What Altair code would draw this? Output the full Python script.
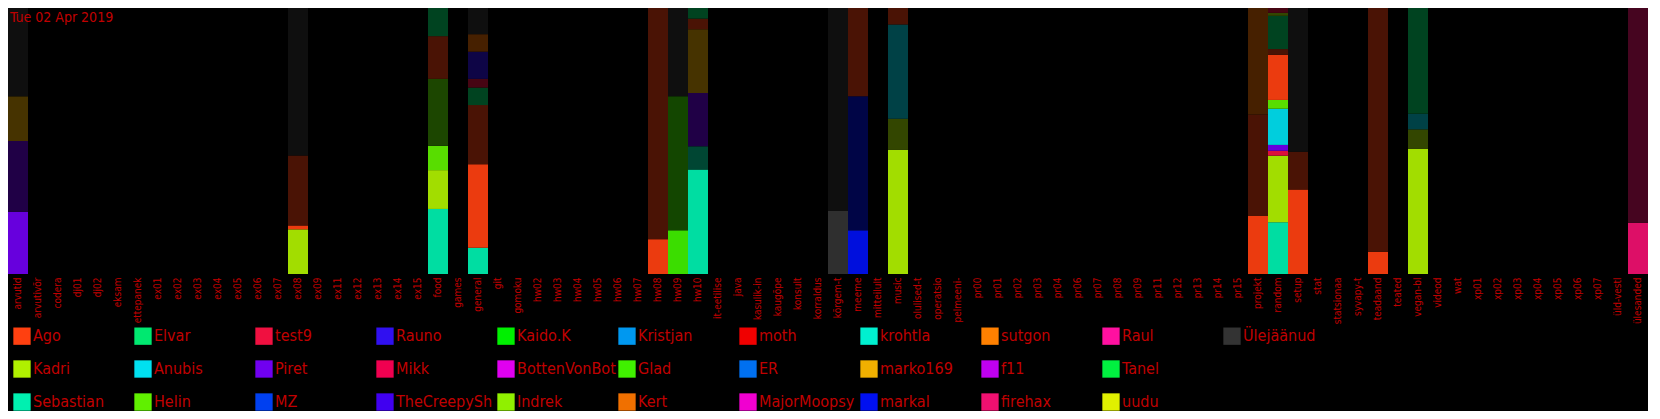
import altair as alt
import pandas as pd

FONT = "DejaVu Sans Condensed, Liberation Sans Narrow, sans-serif"
RED = "#c00000"

title_text = "Tue 02 Apr 2019"

channels = [
    "arvutid", "arvutivõr", "codera", "dj01", "dj02", "eksam", "ettepanek",
    "ex01", "ex02", "ex03", "ex04", "ex05", "ex06", "ex07", "ex08", "ex09",
    "ex11", "ex12", "ex13", "ex14", "ex15", "food", "games", "general", "git",
    "gomoku", "hw02", "hw03", "hw04", "hw05", "hw06", "hw07", "hw08", "hw09",
    "hw10", "it-eetilise", "java", "kasulik-in", "kaugõpe", "konsult",
    "korraldus", "kõrgem-t", "meeme", "mitteilult", "music", "olulised-t",
    "operatsio", "pelmeeni-", "pr00", "pr01", "pr02", "pr03", "pr04", "pr06",
    "pr07", "pr08", "pr09", "pr11", "pr12", "pr13", "pr14", "pr15", "projekt",
    "random", "setup", "stat", "statsionaa", "syvapy-t", "teadaand", "teated",
    "vegan-bl", "videod", "wat", "xp01", "xp02", "xp03", "xp04", "xp05",
    "xp06", "xp07", "üld-vestl", "ülesanded",
]

# legend entries, row by row
users_row1 = ["Ago", "Elvar", "test9", "Rauno", "Kaido.K", "Kristjan", "moth",
              "krohtla", "sutgon", "Raul", "Ülejäänud"]
colors_row1 = ["#ff4010", "#00e870", "#f01040", "#3010f0", "#00f000", "#0098f0",
               "#f00000", "#00f0d0", "#ff8000", "#ff10a0", "#333333"]
users_row2 = ["Kadri", "Anubis", "Piret", "Mikk", "BottenVonBot", "Glad", "ER",
              "marko169", "f11", "Tanel"]
colors_row2 = ["#b0f000", "#00e0f0", "#7000f0", "#f00050", "#e000f0", "#40f000",
               "#0070f0", "#f0b000", "#c000f0", "#00f040"]
users_row3 = ["Sebastian", "Helin", "MZ", "TheCreepySh", "Indrek", "Kert",
              "MajorMoopsy", "markal", "firehax", "uudu"]
colors_row3 = ["#00f0b0", "#60f000", "#0040f0", "#4000f0", "#90f000", "#f07000",
               "#f000d0", "#0010f0", "#f01070", "#e0f000"]

# stacked segments per channel, bottom to top: (user, period, amount)
bar_arvutid = [("Piret", "today", 64), ("Piret", "earlier", 73),
               ("marko169", "earlier", 46), ("Ülejäänud", "earlier", 91)]
bar_ex08 = [("Kadri", "today", 46), ("Ago", "today", 4), ("Ago", "earlier", 72),
            ("Ülejäänud", "earlier", 152)]
bar_food = [("Sebastian", "today", 67), ("Kadri", "today", 40), ("Helin", "today", 25),
            ("Helin", "earlier", 69), ("Ago", "earlier", 44), ("Elvar", "earlier", 29)]
bar_general = [("Sebastian", "today", 27), ("Ago", "today", 86), ("Ago", "earlier", 61),
               ("Elvar", "earlier", 18), ("test9", "earlier", 9), ("Rauno", "earlier", 28),
               ("Kert", "earlier", 18), ("Ülejäänud", "earlier", 27)]
bar_hw08 = [("Ago", "today", 36), ("Ago", "earlier", 239)]
bar_hw09 = [("Glad", "today", 45), ("Glad", "earlier", 138), ("Ülejäänud", "earlier", 91)]
bar_hw10 = [("Sebastian", "today", 108), ("Sebastian", "earlier", 24),
            ("Piret", "earlier", 55), ("marko169", "earlier", 66),
            ("Ago", "earlier", 11), ("Elvar", "earlier", 11)]
bar_korgem = [("Ülejäänud", "today", 65), ("Ülejäänud", "earlier", 209)]
bar_meeme = [("markal", "today", 45), ("markal", "earlier", 138), ("Ago", "earlier", 91)]
bar_music = [("Kadri", "today", 128), ("Kadri", "earlier", 32), ("Anubis", "earlier", 97),
             ("Ago", "earlier", 17)]
bar_projekt = [("Ago", "today", 60), ("Ago", "earlier", 105), ("Kert", "earlier", 110)]
bar_random = [("Sebastian", "today", 53), ("Kadri", "today", 68), ("test9", "today", 5),
              ("Piret", "today", 6), ("Anubis", "today", 37), ("Helin", "today", 9),
              ("Ago", "today", 46), ("Ago", "earlier", 6), ("Elvar", "earlier", 34),
              ("Kadri", "earlier", 3), ("test9", "earlier", 5)]
bar_setup = [("Ago", "today", 87), ("Ago", "earlier", 39), ("Ülejäänud", "earlier", 148)]
bar_teadaand = [("Ago", "today", 23), ("Ago", "earlier", 252)]
bar_vegan = [("Kadri", "today", 129), ("Kadri", "earlier", 20), ("Anubis", "earlier", 16),
             ("Elvar", "earlier", 109)]
bar_ulesanded = [("firehax", "today", 53), ("firehax", "earlier", 222)]

bars = {
    "arvutid": bar_arvutid, "ex08": bar_ex08, "food": bar_food, "general": bar_general,
    "hw08": bar_hw08, "hw09": bar_hw09, "hw10": bar_hw10, "kõrgem-t": bar_korgem,
    "meeme": bar_meeme, "music": bar_music, "projekt": bar_projekt,
    "random": bar_random, "setup": bar_setup, "teadaand": bar_teadaand,
    "vegan-bl": bar_vegan, "ülesanded": bar_ulesanded,
}

user_color = dict(zip(users_row1 + users_row2 + users_row3,
                      colors_row1 + colors_row2 + colors_row3))


def shade(hex_color, f):
    r, g, b = (int(hex_color[i:i + 2], 16) for i in (1, 3, 5))
    return "#%02x%02x%02x" % (round(r * f), round(g * f), round(b * f))


rows = []
for ch, segs in bars.items():
    for k, (user, period, amount) in enumerate(segs):
        f = 0.92 if period == "today" else 0.29
        rows.append({"channel": ch, "k": k, "user": user, "period": period,
                     "amount": amount, "fill": shade(user_color[user], f)})
bar_df = pd.DataFrame(rows)

# legend: row-major grid of 11 columns; a blank placeholder closes row 2
legend_domain = users_row1 + users_row2 + [" "] + users_row3
legend_range = colors_row1 + colors_row2 + ["#000000"] + colors_row3
legend_df = pd.DataFrame({"user": legend_domain})

PLOT_W, PLOT_H = 1640, 266

bars_layer = alt.Chart(bar_df).mark_bar().encode(
    x=alt.X("channel:N", sort=channels,
            scale=alt.Scale(domain=channels, paddingInner=0, paddingOuter=0),
            axis=alt.Axis(title=None, labelAngle=-90, ticks=False, domain=False,
                          labelColor=RED, labelFont=FONT, labelFontSize=10,
                          labelPadding=3, labelLimit=200)),
    y=alt.Y("amount:Q", stack="normalize", axis=None),
    order=alt.Order("k:Q", sort="ascending"),
    fill=alt.Fill("fill:N", scale=None),
)

legend_layer = alt.Chart(legend_df).mark_square(opacity=0).encode(
    color=alt.Color("user:N",
                    scale=alt.Scale(domain=legend_domain, range=legend_range),
                    legend=alt.Legend(
                        title=None, orient="none", legendX=5, legendY=PLOT_H + 53,
                        direction="horizontal", columns=11, gridAlign="all",
                        symbolType="square", symbolSize=300, symbolStrokeWidth=0,
                        symbolOpacity=1, symbolLimit=50, labelFont=FONT,
                        labelFontSize=16, labelColor=RED, labelLimit=200,
                        labelOffset=2, columnPadding=2, rowPadding=15, padding=0)),
)

title_layer = alt.Chart(pd.DataFrame({"t": [title_text]})).mark_text(
    align="left", baseline="middle", font=FONT, fontSize=14, color=RED
).encode(text="t:N", x=alt.value(2), y=alt.value(10))

chart = alt.layer(bars_layer, legend_layer, title_layer).properties(
    width=PLOT_W, height=PLOT_H, background="black", padding=0
).configure_view(stroke=None)

chart.save("out.html", embed_options={"renderer": "svg", "actions": False})
